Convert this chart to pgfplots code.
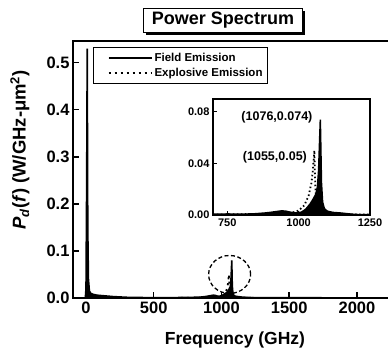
\documentclass[border=0pt]{standalone}
\usepackage{pgfplots}
\pgfplotsset{compat=1.18}
\usepackage{pgfplotstable}
\usepackage{fontspec}
\setmainfont{Liberation Sans}

\pgfplotstableread{
f P
-5 0
0 0.02
5 0.25
9 0.53
13 0.15
18 0.04
25 0.015
35 0.010
50 0.008
80 0.006
120 0.005
160 0.004
200 0.003
300 0.0015
400 0.001
500 0.0008
600 0.0008
700 0.001
800 0.0015
850 0.002
880 0.003
900 0.004
920 0.005
940 0.006
955 0.0055
970 0.004
990 0.004
1010 0.006
1025 0.009
1040 0.012
1050 0.016
1060 0.020
1066 0.025
1070 0.038
1073 0.058
1076 0.080
1078 0.05
1080 0.025
1084 0.012
1090 0.006
1100 0.004
1120 0.003
1150 0.002
1200 0.001
1400 0.0006
1800 0.0004
2400 0.0003
}\fieldmain

\pgfplotstableread{
f P
700 0.0006
720 0.0006
750 0.0008
800 0.0006
850 0.0010
880 0.0015
900 0.0020
920 0.0026
940 0.0032
955 0.0030
970 0.0022
990 0.0016
1010 0.0022
1025 0.0045
1040 0.0085
1050 0.0120
1060 0.0160
1066 0.0220
1070 0.0350
1073 0.0550
1076 0.0740
1078 0.0500
1080 0.0250
1084 0.0100
1090 0.0050
1100 0.0030
1120 0.0020
1150 0.0015
1170 0.0010
1200 0.0004
1250 0.0003
}\fieldinset

\pgfplotstableread{
f P
700 0.0003
850 0.0008
900 0.0012
940 0.0020
980 0.0020
1000 0.0035
1020 0.0075
1035 0.0150
1045 0.0250
1050 0.0350
1053 0.0440
1055 0.0500
1057 0.0320
1060 0.0150
1064 0.0060
1070 0.0030
1080 0.0015
1100 0.0008
1150 0.0005
1250 0.0003
}\explosive

\begin{document}
\begin{tikzpicture}[x=1pt,y=1pt]
\useasboundingbox (0,0) rectangle (388,354);
% title box with shadow
\fill[black] (146,319) rectangle (305,343);
\node[draw=black, line width=1pt, fill=white, minimum width=159pt, minimum height=24pt, inner sep=0pt, anchor=north west,
  font=\bfseries\fontsize{18}{18}\selectfont] at (143,346) {Power Spectrum};

\begin{axis}[
  at={(73pt,56pt)}, anchor=south west, scale only axis,
  width=330pt, height=257pt,
  xmin=-96, xmax=2340, ymin=0, ymax=0.546,
  axis line style={line width=1.6pt},
  tick style={line width=1.5pt, black},
  tick align=inside, major tick length=6pt,
  xtick pos=bottom, ytick pos=left,
  xtick={0,500,1000,1500,2000},
  ytick={0,0.1,0.2,0.3,0.4,0.5},
  /pgf/number format/assume math mode=true,
  ticklabel style={font=\bfseries\fontsize{16.5}{16.5}\selectfont},
  xticklabel style={/pgf/number format/fixed, /pgf/number format/set thousands separator={}},
  yticklabel style={/pgf/number format/fixed, /pgf/number format/fixed zerofill, /pgf/number format/precision=1},
  legend style={at={(rel axis cs:0.061,0.978)}, anchor=north west, draw=black, line width=1pt,
     font=\bfseries\fontsize{11.5}{11.5}\selectfont, inner xsep=3pt, inner ysep=4pt, row sep=1pt},
  legend cell align=left,
  legend image code/.code={\path[draw=none, fill=none] (0pt,0pt) -- (1pt,0pt); \draw[#1, line width=1.8pt] (12pt,0pt) -- (55pt,0pt);},
  clip=true,
]
\addplot[black, line width=1.6pt, fill=black] table[x=f,y=P] {\fieldmain} \closedcycle;
\addlegendentry{Field Emission}
\addplot[black, line width=1.8pt, dash pattern=on 2pt off 4pt] table[x=f,y=P] {\explosive};
\addlegendentry{Explosive Emission}
\draw[black, line width=1.3pt, dash pattern=on 4pt off 2.5pt] (axis cs:1060,0.050) ellipse [x radius=21pt, y radius=19pt];
\end{axis}

\begin{axis}[
  at={(213pt,139pt)}, anchor=south west, scale only axis,
  width=157pt, height=116pt,
  xmin=700, xmax=1250, ymin=0, ymax=0.09,
  axis line style={line width=1.4pt},
  tick style={line width=1.2pt, black},
  tick align=inside, major tick length=4pt,
  xtick pos=bottom, ytick pos=left,
  xtick={750,1000,1250},
  ytick={0,0.04,0.08},
  scaled y ticks=false,
  /pgf/number format/assume math mode=true,
  ticklabel style={font=\bfseries\fontsize{11}{11}\selectfont},
  xticklabel style={/pgf/number format/fixed, /pgf/number format/set thousands separator={}},
  yticklabel style={/pgf/number format/fixed, /pgf/number format/fixed zerofill, /pgf/number format/precision=2},
  clip=true,
]
\addplot[black, line width=1.5pt, fill=black] table[x=f,y=P] {\fieldinset} \closedcycle;
\addplot[black, line width=1.8pt, dash pattern=on 1.5pt off 2.5pt] table[x=f,y=P] {\explosive};
\node[font=\bfseries\fontsize{12.5}{12.5}\selectfont] at (axis cs:924,0.076) {(1076,0.074)};
\node[font=\bfseries\fontsize{12.5}{12.5}\selectfont] at (axis cs:917,0.045) {(1055,0.05)};
\end{axis}

\node[rotate=90, font=\bfseries\fontsize{18.5}{18.5}\selectfont] at (20,204)
  {\textit{P}\textsubscript{\textit{d}}(\textit{f}) (W/GHz-μm\textsuperscript{2})};
\node[font=\bfseries\fontsize{17.5}{17.5}\selectfont] at (235,14) {Frequency (GHz)};
\end{tikzpicture}
\end{document}
